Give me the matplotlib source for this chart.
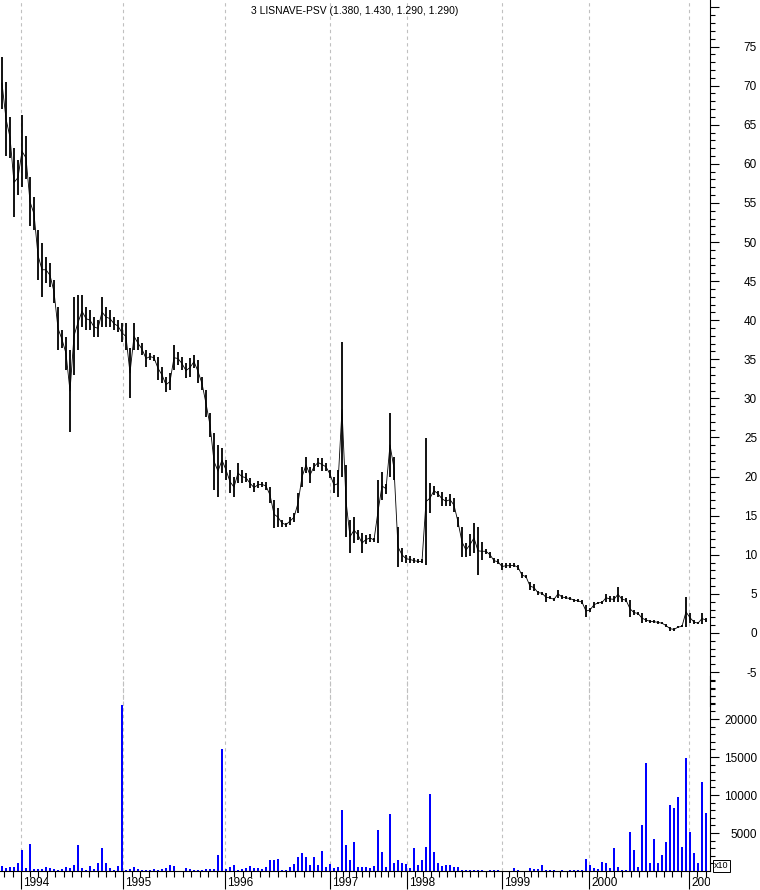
import numpy as np
import matplotlib
matplotlib.use("Agg")
import matplotlib.pyplot as plt
from matplotlib.transforms import Bbox, TransformedBbox, ScaledTranslation

plt.rcParams['font.family'] = ['Liberation Sans', 'DejaVu Sans']

title = "3 LISNAVE-PSV (1.380, 1.430, 1.290, 1.290)"

# price range per bar (one bar ~ a few trading days)
high = [73.6, 70.5, 66.0, 62.0, 60.5, 66.2, 63.5, 58.3, 55.7, 51.5,
        49.9, 48.1, 47.3, 45.1, 41.7, 38.7, 37.9, 36.2, 43.0, 43.2,
        43.2, 41.7, 41.3, 40.4, 40.0, 43.0, 41.7, 41.3, 40.4, 40.0,
        39.6, 39.6, 36.5, 39.7, 37.9, 37.1, 36.2, 35.8, 35.6, 35.3,
        34.0, 32.7, 33.2, 36.8, 35.9, 35.3, 34.5, 35.2, 35.5, 34.9,
        32.7, 31.1, 28.1, 25.6, 24.0, 23.7, 22.1, 20.8, 19.9, 21.7,
        20.8, 20.4, 19.8, 19.2, 19.4, 19.3, 19.3, 18.7, 17.0, 16.0,
        14.5, 14.1, 14.8, 15.4, 17.9, 21.2, 22.5, 21.2, 21.8, 22.4,
        22.4, 21.8, 20.8, 19.9, 20.8, 37.2, 21.5, 14.4, 14.8, 13.2,
        12.8, 12.5, 12.7, 12.2, 19.6, 20.6, 19.1, 28.1, 22.5, 13.5,
        10.9, 10.0, 9.8, 9.6, 9.4, 9.4, 24.9, 19.2, 18.8, 18.2,
        18.0, 17.4, 17.8, 17.2, 14.8, 13.6, 11.5, 12.7, 14.1, 13.6,
        11.6, 10.8, 10.4, 9.6, 9.4, 8.9, 8.9, 8.9, 8.9, 8.7,
        7.8, 7.4, 6.5, 6.2, 5.4, 5.3, 5.1, 4.7, 4.5, 5.5,
        4.9, 4.7, 4.6, 4.4, 4.3, 4.2, 3.6, 3.2, 4.0, 4.0,
        4.1, 5.0, 4.7, 4.7, 5.9, 4.7, 4.5, 4.2, 2.9, 2.7,
        2.5, 1.9, 1.7, 1.6, 1.5, 1.4, 1.1, 0.8, 0.6, 0.9,
        1.0, 4.6, 2.6, 1.7, 1.4, 2.6, 1.9]
low = [67.0, 61.0, 60.8, 53.2, 56.0, 57.0, 58.0, 52.0, 51.5, 45.1,
       43.0, 44.8, 44.2, 42.2, 36.2, 36.4, 33.6, 25.7, 33.0, 36.2,
       39.1, 38.7, 38.7, 37.9, 37.9, 39.1, 39.1, 39.1, 38.7, 38.5,
       37.2, 36.2, 30.0, 36.2, 36.2, 35.5, 34.0, 34.9, 34.8, 32.4,
       32.0, 30.8, 31.1, 33.6, 34.3, 33.6, 32.6, 32.7, 33.9, 32.0,
       31.1, 27.6, 25.1, 18.3, 17.4, 20.5, 19.6, 17.9, 17.4, 19.2,
       19.2, 19.3, 18.5, 18.0, 18.5, 18.7, 18.3, 16.6, 13.4, 13.6,
       13.6, 13.6, 13.8, 14.2, 15.3, 18.7, 20.5, 19.2, 20.7, 21.2,
       20.7, 20.7, 19.8, 17.9, 17.4, 19.9, 12.3, 10.2, 11.5, 11.9,
       10.2, 11.4, 11.6, 11.6, 11.5, 17.0, 17.8, 20.0, 19.6, 8.5,
       9.1, 9.0, 9.0, 8.9, 8.9, 8.9, 8.7, 15.3, 17.6, 17.4,
       16.3, 16.3, 16.3, 15.5, 13.6, 9.7, 9.7, 9.9, 10.2, 7.4,
       9.3, 10.1, 9.6, 8.9, 8.8, 8.1, 8.3, 8.3, 8.4, 8.1,
       7.0, 7.0, 5.5, 5.4, 4.9, 4.9, 4.0, 4.3, 4.1, 4.5,
       4.3, 4.3, 4.2, 4.0, 3.9, 3.7, 2.0, 2.7, 3.2, 3.7,
       3.7, 4.0, 4.0, 3.9, 4.0, 3.9, 3.9, 2.0, 2.3, 2.3,
       1.3, 1.4, 1.3, 1.3, 1.2, 1.1, 0.8, 0.3, 0.3, 0.6,
       0.7, 0.8, 1.3, 1.1, 1.1, 1.1, 1.4]
volume = [660, 350, 480, 570, 1000, 2770, 350, 3560, 220, 260,
          300, 480, 350, 260, 130, 220, 480, 350, 790, 3420,
          350, 130, 660, 220, 1100, 3030, 1100, 350, 130, 660,
          21900, 130, 300, 480, 220, 130, 130, 130, 260, 130,
          300, 350, 750, 610, 40, 40, 350, 220, 130, 130,
          130, 260, 260, 220, 2100, 16100, 220, 480, 790, 130,
          260, 350, 660, 350, 350, 260, 570, 1450, 1450, 1540,
          130, 130, 570, 880, 1890, 2330, 1800, 790, 1800, 790,
          2630, 570, 880, 350, 570, 8030, 3420, 1450, 3780, 570,
          480, 570, 350, 660, 5400, 2550, 570, 7510, 1000, 1450,
          1000, 880, 350, 2990, 790, 1450, 3200, 10140, 2460, 1000,
          660, 790, 790, 570, 570, 130, 130, 130, 130, 130,
          130, 0, 130, 130, 130, 0, 0, 0, 440, 130,
          0, 0, 350, 220, 220, 790, 130, 130, 130, 0,
          130, 0, 130, 130, 130, 130, 1580, 790, 350, 220,
          1230, 1000, 350, 3070, 570, 130, 130, 5180, 2770, 570,
          6060, 14270, 1100, 4210, 1100, 2100, 3860, 8690, 8250, 9790,
          3200, 14930, 5180, 2410, 1000, 11760, 7680]

# bar index where each year starts
years = ["1994", "1995", "1996", "1997", "1998", "1999", "2000", "2001"]
year_start = [4.75, 30.25, 55.75, 82.0, 101.25, 125.0, 146.75, 171.75]

W, H = 760, 890
x = np.arange(len(high))
right = 710 / W

fig = plt.figure(figsize=(W / 100, H / 100), dpi=100)
ax_p = fig.add_axes([0, 1 - 706 / H, right, 706 / H])
ax_v = fig.add_axes([0, 1 - 871 / H, right, (871 - 676) / H])
ax_v.patch.set_visible(False)

grid_kw = dict(color="#c0c0c0", lw=0.8, ls=(0, (3, 3)), zorder=0)
for ax in (ax_p, ax_v):
    ax.set_xlim(-0.5, 177)
    for b in year_start:
        ax.axvline(b, **grid_kw)
    ax.yaxis.tick_right()
    for s in ("left", "top", "bottom"):
        ax.spines[s].set_visible(False)
    ax.spines["right"].set_linewidth(0.8)
    ax.tick_params(axis="y", which="major", length=6.5, width=0.8,
                   labelsize=8.5, pad=27.4)
    ax.tick_params(axis="y", which="minor", length=3.6, width=0.8)

# price panel
ax_p.vlines(x, low, high, color="black", lw=1.3)
ax_p.plot(x, (np.array(high) + np.array(low)) / 2, color="black", lw=0.6)
ax_p.set_ylim(-9.34, 80.95)
ax_p.set_yticks(np.arange(-5, 81, 5))
ax_p.set_yticklabels([str(v) if v < 80 else "" for v in range(-5, 81, 5)])
ax_p.set_yticks(np.arange(-9, 81, 1), minor=True)
ax_p.set_xticks([])

# volume panel
ax_v.bar(x, volume, width=0.45, color="#0000ff", linewidth=0)
ax_v.set_ylim(0, 25660)
ax_v.set_yticks([5000, 10000, 15000, 20000])
ax_v.set_yticks(np.arange(1000, 25001, 1000), minor=True)
ax_v.spines["bottom"].set_visible(True)
ax_v.spines["bottom"].set_linewidth(0.8)

plt.setp(ax_p.get_yticklabels(), ha="right")
plt.setp(ax_v.get_yticklabels(), ha="right")

# monthly minor ticks, yearly long ticks
months = []
edges = [year_start[0] - (year_start[1] - year_start[0])] + year_start + [year_start[-1] + 25]
for a, b in zip(edges[:-1], edges[1:]):
    months.extend(np.linspace(a, b, 13)[1:-1])
ax_v.set_xticks(year_start)
ax_v.set_xticks([m for m in months if -0.5 < m < 177], minor=True)
ax_v.set_xticklabels([])
ax_v.tick_params(axis="x", which="major", length=13, width=0.8, direction="out")
ax_v.tick_params(axis="x", which="minor", length=4.3, width=0.8, direction="out")

clip = TransformedBbox(Bbox([[0, 0], [right, 1]]), fig.transFigure)
offset = ax_v.get_xaxis_transform() + ScaledTranslation(0.025, -0.12, fig.dpi_scale_trans)
for lab, b in zip(years, year_start):
    t = ax_v.text(b, 0, lab, transform=offset, ha="left", va="center",
                  fontsize=8.5, clip_on=True)
    t.set_clip_box(clip)

fig.text(355 / W, 1 - 11 / H, title, ha="center", va="center", fontsize=7.5)
fig.text(714 / W, 1 - 866 / H, "x10", ha="left", va="center", fontsize=6.5,
         bbox=dict(boxstyle="square,pad=0.15", fc="white", ec="black", lw=0.7))

fig.savefig("out.png", dpi=100)
